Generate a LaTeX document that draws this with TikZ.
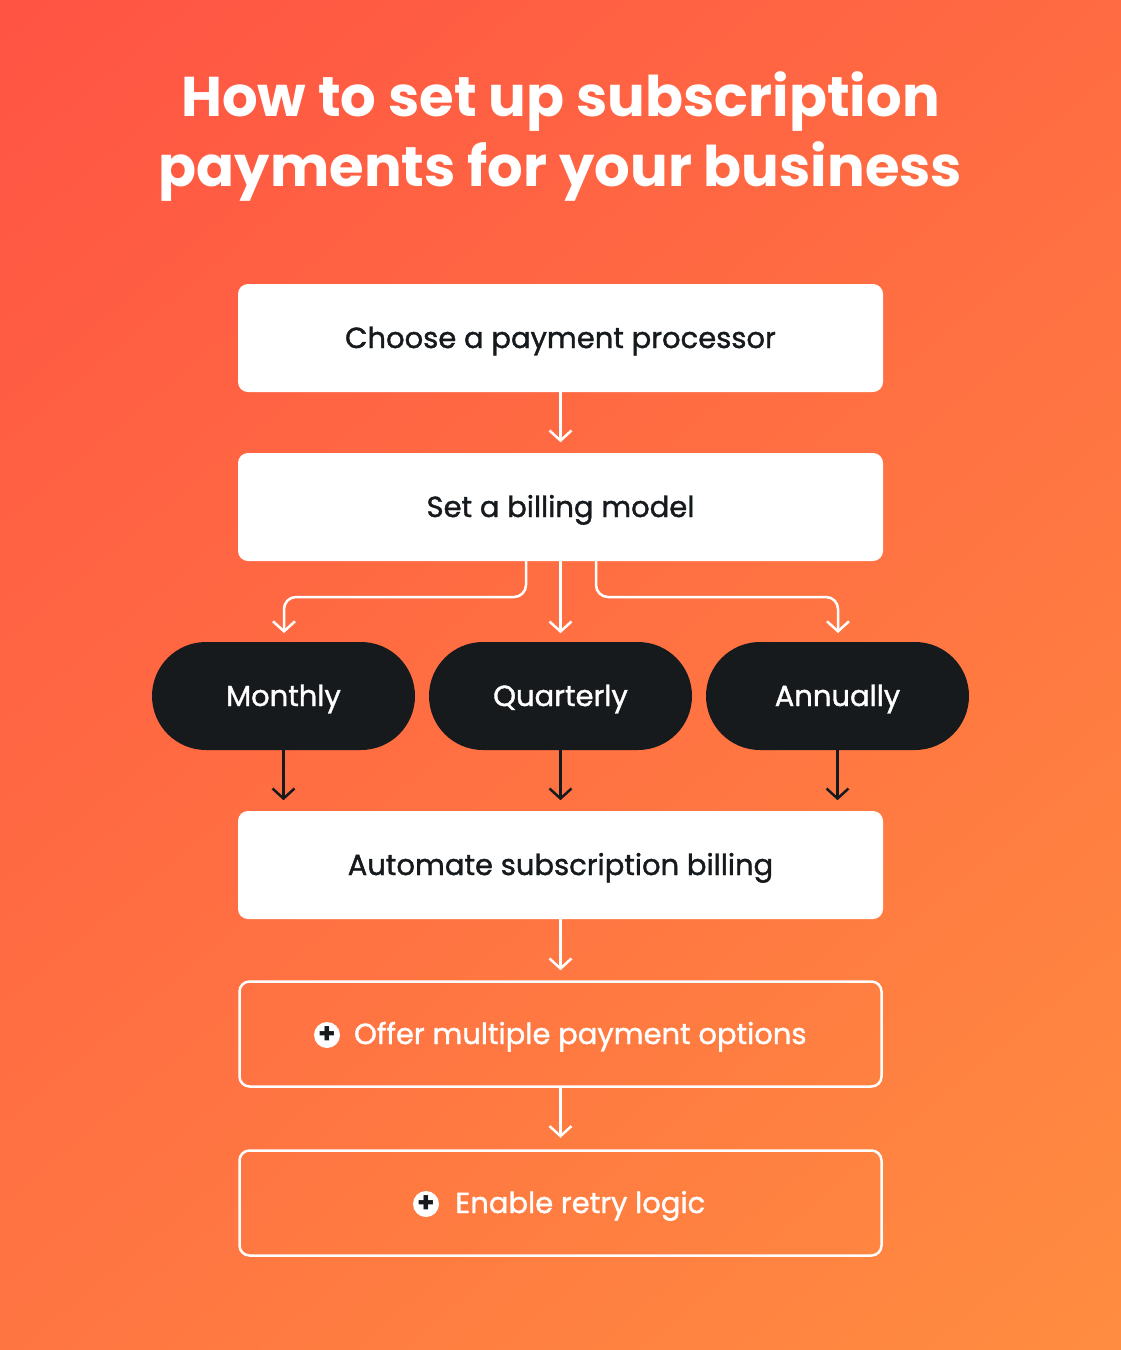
\documentclass[tikz,border=0pt]{standalone}
\usepackage{fontspec}
\setmainfont{Poppins}
\newfontfamily\medfont{Poppins}[FakeBold=1.3]
\usetikzlibrary{arrows.meta}
\definecolor{dark}{HTML}{171A1D}
\definecolor{tl}{HTML}{FF5244}
\definecolor{br}{HTML}{FF8E40}
\tikzset{
 lbl/.style={text=dark,font=\medfont\fontsize{29}{34}\selectfont,text depth=0pt,text height=20pt},
 wbox/.style={fill=white,rounded corners=10pt,minimum width=645pt,minimum height=108pt,lbl},
 obox/.style={draw=white,line width=2.5pt,rounded corners=10pt,minimum width=642pt,minimum height=105pt,lbl,text=white},
 pill/.style={fill=dark,rounded corners=54pt,minimum width=263pt,minimum height=108pt,lbl,text=white},
 warr/.style={draw=white,line width=2.5pt,-{Straight Barb[length=10pt,width=22pt,line width=2.5pt]}},
 darr/.style={draw=dark,line width=2.5pt,-{Straight Barb[length=10pt,width=22pt,line width=2.5pt]}},
 plusic/.style={circle,fill=white,inner sep=0pt,minimum size=26pt,text=dark,font=\bfseries\fontsize{28}{28}\selectfont}
}
\begin{document}
\begin{tikzpicture}[x=1pt,y=-1pt]
\useasboundingbox (0,0) rectangle (1121,1350);
\shade[top color=tl,bottom color=br,shading angle=40] (-300,-300) rectangle (1421,1650);
\node[text=white,font=\bfseries\fontsize{56}{70}\selectfont,align=center] (title) at (560.5,137) {How to set up subscription\\payments for your business};
\node[wbox] (b1) at (560.5,338) {Choose a payment processor};
\node[wbox] (b2) at (560.5,507) {Set a billing model};
\node[pill] (m) at (283.5,696) {Monthly};
\node[pill] (q) at (560.5,696) {Quarterly};
\node[pill] (a) at (837.5,696) {Annually};
\node[wbox] (b3) at (560.5,865) {Automate subscription billing};
\node[obox] (b4) at (560.5,1034) {\phantom{++}Offer multiple payment options};
\node[obox] (b5) at (560.5,1203) {\phantom{++}Enable retry logic};
\node[plusic] (p1) at (327,1035) {+};
\node[plusic] (p2) at (426,1204) {+};
\coordinate (b2l) at (526,561);
\coordinate (b2r) at (596,561);
\draw[warr] (b1.south) -- ++(0,50);
\draw[warr,rounded corners=12pt] (b2l) -- (526,597) -- (284,597) -- (284,633);
\draw[warr] (b2.south) -- ++(0,72);
\draw[warr,rounded corners=12pt] (b2r) -- (596,597) -- (838,597) -- (838,633);
\draw[darr] (m.south) -- ++(0,50);
\draw[darr] (q.south) -- ++(0,50);
\draw[darr] (a.south) -- ++(0,50);
\draw[warr] (b3.south) -- ++(0,51);
\draw[warr] (b4.south) -- ++(0,50);
\end{tikzpicture}
\end{document}
